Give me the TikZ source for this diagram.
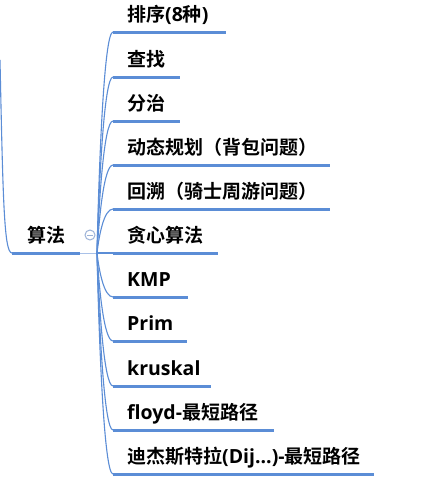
\documentclass[tikz,border=0pt]{standalone}
\usepackage{fontspec}
\usetikzlibrary{calc}
\setmainfont{Open Sans}
\newfontfamily\cjkfont{Noto Sans CJK SC}[BoldFont={Noto Sans CJK SC Bold}]
\newcommand\zh[1]{{\cjkfont\bfseries\fontsize{19}{22}\selectfont #1}}
\definecolor{mmblue}{HTML}{5B8DD6}
\definecolor{thinblue}{HTML}{A9C1E8}
\definecolor{btngray}{HTML}{9DB3D8}
\begin{document}
\begin{tikzpicture}[x=1pt,y=-1pt,
  lbl/.style={anchor=base west, inner sep=0pt, font=\fontsize{19.5}{22}\selectfont\bfseries, text=black},
  uline/.style={draw=mmblue, line width=3pt},
  conn/.style={draw=mmblue, line width=1.1pt},
  thin/.style={draw=thinblue, line width=0.9pt},
  btn/.style={circle, draw=btngray, line width=1pt, minimum size=10pt, inner sep=0pt}]
\useasboundingbox (0,0) rectangle (434,496);
\fill[white] (0,0) rectangle (434,496);
% root
\node[lbl] (root) at (27,242) {\zh{算法}};
\coordinate (rs) at (12,253);
\coordinate (re) at (80,253);
\coordinate (gp) at (0,60);
\draw[conn] (gp) .. controls (3,200) and (4,253) .. (rs);
\draw[uline] (rs) -- (re);
\coordinate (o) at (97,253);
\coordinate (j) at (113,253);
\draw[thin] (re) -- (j);
\node[btn] (btn) at (90,235) {};
\draw[btngray, line width=1pt] ($(btn.center)+(-3,0)$) -- ($(btn.center)+(3,0)$);
% children
\foreach \i/\y/\e/\t in {
  1/32/226/{\zh{排序}(8\zh{种})},
  2/77/180/{\zh{查找}},
  3/121/180/{\zh{分治}},
  4/165/330/{\zh{动态规划（背包问题）}},
  5/209/330/{\zh{回溯（骑士周游问题）}},
  6/253/218/{\zh{贪心算法}},
  7/297/188/{KMP},
  8/341/187/{Prim},
  9/386/211/{kruskal},
  10/430/274/{floyd-\zh{最短路径}},
  11/474/374/{\zh{迪杰斯特拉}(Dij...)-\zh{最短路径}}} {
  \node[lbl] (c\i) at (127,\y-11) {\t};
  \coordinate (s\i) at (113,\y);
  \coordinate (e\i) at (\e,\y);
  \pgfmathsetmacro\dy{0.4*(\y-253)}
  \draw[conn] (o) .. controls +(2,\dy) and +(-9,0) .. (s\i);
  \draw[uline] (s\i) -- (e\i);
}
\end{tikzpicture}
\end{document}
